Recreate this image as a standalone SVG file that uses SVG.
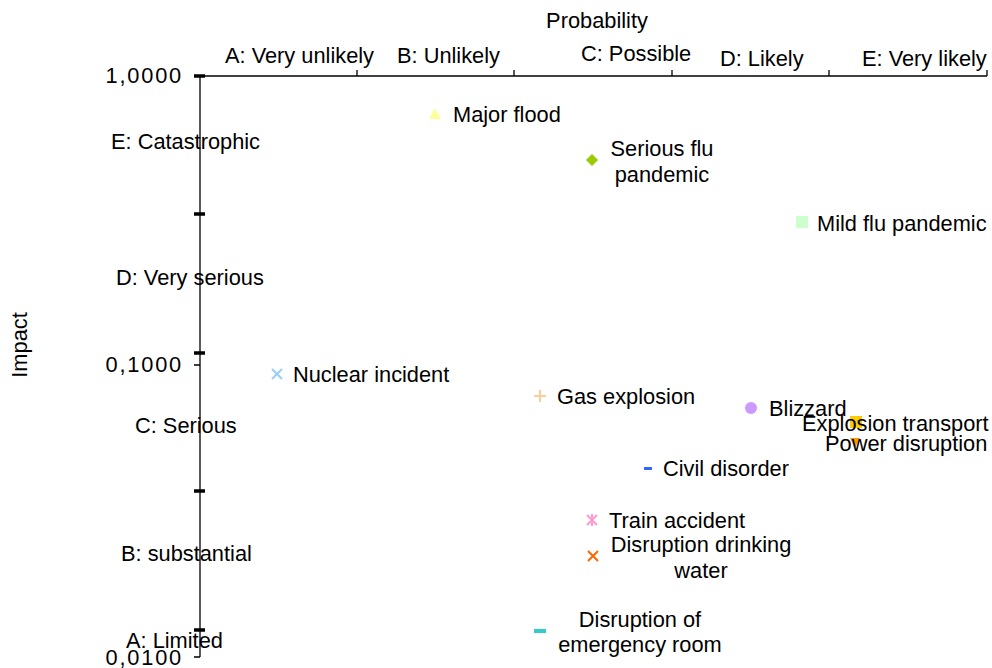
<svg xmlns="http://www.w3.org/2000/svg" width="992" height="668" viewBox="0 0 992 668">
<style>
text{font-family:"Liberation Sans",Arial,sans-serif;font-size:21.8px;fill:#000}
.axis{stroke:#000;stroke-width:1.3;fill:none}
.thick{stroke:#000;stroke-width:3.5}
.c{text-anchor:middle}
.e{text-anchor:end}
.n{letter-spacing:1.8px}
</style>
<rect width="992" height="668" fill="#fff"/>
<g id="axes">
<line class="axis" x1="200" y1="76" x2="987" y2="76"/>
<line class="axis" x1="200" y1="76" x2="200" y2="657"/>
<path class="axis" d="M357 70V76M514 70V76M672 70V76M829 70V76M987 70V76"/>
<path class="thick" d="M194 76H205M194 214H205M194 353H205M194 491H205M194 630H205"/>
<path class="axis" d="M194 365H200M194 657H200"/>
<text class="c" x="597" y="28">Probability</text>
<text x="225" y="63">A: Very unlikely</text>
<text x="397" y="63">B: Unlikely</text>
<text x="581" y="61">C: Possible</text>
<text x="720" y="66">D: Likely</text>
<text x="862" y="66">E: Very likely</text>
<text class="e n" x="183" y="83">1,0000</text>
<text class="e n" x="183" y="372">0,1000</text>
<text class="e n" x="183" y="665">0,0100</text>
<text x="111" y="149">E: Catastrophic</text>
<text x="116" y="285">D: Very serious</text>
<text x="135" y="433">C: Serious</text>
<text x="121" y="561">B: substantial</text>
<text x="126" y="648">A: Limited</text>
<text class="c" transform="translate(27 345) rotate(-90)">Impact</text>
</g>
<g id="major-flood">
<polygon points="435,108 441,119 429,119" fill="#ffff99"/>
<text x="453" y="122">Major flood</text>
</g>
<g id="serious-flu">
<polygon points="592,154 598,160 592,166 586,160" fill="#99cc00"/>
<text class="c" x="662" y="156">Serious flu</text>
<text class="c" x="662" y="182">pandemic</text>
</g>
<g id="mild-flu">
<rect x="796" y="216" width="12" height="12" fill="#ccffcc"/>
<text x="817" y="231">Mild flu pandemic</text>
</g>
<g id="nuclear">
<path d="M272 369L282 379M282 369L272 379" stroke="#99ccff" stroke-width="2"/>
<text x="293" y="382">Nuclear incident</text>
</g>
<g id="gas">
<path d="M540 390V402M534 396H546" stroke="#ffcc99" stroke-width="2"/>
<text x="557" y="404">Gas explosion</text>
</g>
<g id="blizzard">
<circle cx="751" cy="408" r="6" fill="#cc99ff"/>
<text x="769" y="416">Blizzard</text>
</g>
<g id="explosion-transport">
<rect x="850" y="416" width="12" height="12" fill="#ffcc00"/>
<text x="802" y="431">Explosion transport</text>
</g>
<g id="power">
<polygon points="850,438 860,438 855,448" fill="#ff9900"/>
<text x="825" y="451">Power disruption</text>
</g>
<g id="civil">
<rect x="644" y="467" width="8" height="3" fill="#3366ff"/>
<text x="663" y="476">Civil disorder</text>
</g>
<g id="train">
<path d="M587 515L597 525M597 515L587 525M592 514V526" stroke="#ff99cc" stroke-width="2"/>
<text x="609" y="528">Train accident</text>
</g>
<g id="water">
<path d="M588 551L598 561M598 551L588 561" stroke="#ff6600" stroke-width="2"/>
<text class="c" x="701" y="552">Disruption drinking</text>
<text class="c" x="701" y="578">water</text>
</g>
<g id="emergency">
<rect x="534" y="629" width="12" height="4" fill="#33cccc"/>
<text class="c" x="640" y="627">Disruption of</text>
<text class="c" x="640" y="652">emergency room</text>
</g>
</svg>
